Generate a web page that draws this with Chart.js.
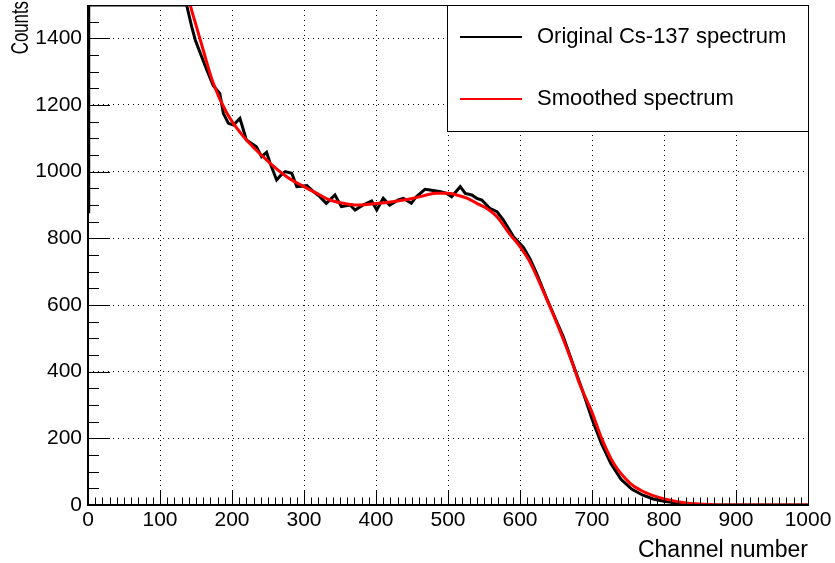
<!DOCTYPE html>
<html>
<head>
<meta charset="utf-8">
<script src="https://cdn.jsdelivr.net/npm/chart.js@4/dist/chart.umd.min.js"></script>
<style>
  body { margin: 0; background: #fff; }
  canvas { display: block; }
</style>
</head>
<body>
<canvas id="spectrumChart" width="835" height="563"></canvas>
<script>
// Original Cs-137 spectrum (clipped part sits at the top 1500)
const originalChannels = [0, 1, 137, 144, 149, 156, 165, 174, 183, 188, 195, 202, 211, 220, 234, 241, 248, 253, 262, 268, 274, 283, 290, 304, 313, 322, 331, 343, 352, 364, 371, 382, 394, 401, 410, 419, 431, 438, 449, 456, 468, 475, 490, 498, 505, 517, 524, 533, 540, 547, 558, 568, 577, 591, 605, 614, 623, 637, 650, 660, 674, 687, 700, 713, 726, 740, 755, 770, 785, 800, 820, 850, 900, 1000];
const originalCounts = [880, 1500, 1500, 1435, 1395, 1355, 1305, 1258, 1235, 1175, 1145, 1140, 1160, 1095, 1075, 1045, 1058, 1025, 975, 990, 1000, 995, 955, 958, 940, 925, 905, 930, 895, 900, 885, 900, 912, 885, 920, 900, 915, 920, 905, 925, 947, 945, 940, 935, 925, 955, 935, 930, 920, 915, 890, 880, 855, 805, 772, 738, 695, 620, 555, 505, 420, 342, 258, 185, 125, 78, 48, 30, 18, 11, 5, 1, 0, 0];

// Smoothed spectrum
const smoothChannels = [136, 142, 150, 160, 174, 193, 216, 253, 276, 300, 318, 336, 355, 373, 390, 405, 430, 452, 470, 484, 500, 512, 527, 540, 555, 568, 586, 600, 614, 635, 655, 674, 683, 700, 713, 730, 753, 767, 785, 799, 831, 870, 900, 1000];
const smoothCounts = [1560, 1500, 1440, 1365, 1265, 1175, 1105, 1025, 985, 955, 935, 915, 905, 900, 902, 905, 912, 920, 930, 935, 935, 930, 920, 905, 888, 865, 812, 775, 728, 628, 525, 418, 362, 278, 202, 125, 65, 45, 28, 19, 6, 1, 0, 0];

// Axis ticks
const xTickValues = [0, 100, 200, 300, 400, 500, 600, 700, 800, 900, 1000];
const yTickValues = [0, 200, 400, 600, 800, 1000, 1200, 1400];

const FONT = '"Liberation Sans", Arial, Helvetica, sans-serif';

function toPoints(xs, ys) {
    return xs.map((x, i) => ({ x: x, y: ys[i] }));
}

// Draws ROOT-style frame, inner ticks, legend box and axis titles
const rootStyle = {
    id: 'rootStyle',
    afterDatasetsDraw(chart) {
        const ctx = chart.ctx;
        const area = chart.chartArea;
        const xs = chart.scales.x;
        const ys = chart.scales.y;
        ctx.save();
        ctx.strokeStyle = '#000';
        ctx.lineWidth = 1;

        // x ticks (inside, pointing up)
        for (let v = xs.min; v <= xs.max; v += 10) {
            const px = Math.round(xs.getPixelForValue(v)) + 0.5;
            const len = (v % 100 === 0) ? 15 : 7.5;
            ctx.beginPath();
            ctx.moveTo(px, area.bottom);
            ctx.lineTo(px, area.bottom - len);
            ctx.stroke();
        }
        // y ticks (inside, pointing right)
        for (let v = ys.min; v <= 1450; v += 50) {
            const py = Math.round(ys.getPixelForValue(v)) + 0.5;
            const len = (v % 200 === 0) ? 22 : 11;
            ctx.beginPath();
            ctx.moveTo(area.left, py);
            ctx.lineTo(area.left + len, py);
            ctx.stroke();
        }

        // frame
        ctx.beginPath();
        ctx.moveTo(area.left, area.top + 0.5);
        ctx.lineTo(area.right, area.top + 0.5);
        ctx.moveTo(area.right + 0.5, area.top);
        ctx.lineTo(area.right + 0.5, area.bottom);
        ctx.stroke();
        ctx.lineWidth = 2;
        ctx.beginPath();
        ctx.moveTo(area.left, area.top);
        ctx.lineTo(area.left, area.bottom);
        ctx.lineTo(area.right + 1, area.bottom);
        ctx.stroke();
        ctx.restore();
    },
    afterDraw(chart) {
        const ctx = chart.ctx;
        const area = chart.chartArea;
        ctx.save();

        // legend box
        const bx = 447, by = area.top, bw = area.right - 447, bh = 126;
        ctx.fillStyle = '#fff';
        ctx.fillRect(bx, by, bw, bh);
        ctx.strokeStyle = '#000';
        ctx.lineWidth = 1;
        ctx.strokeRect(bx + 0.5, by + 0.5, bw, bh);

        const entries = [chart.data.datasets[1], chart.data.datasets[0]];
        const rowY = [37, 99];
        ctx.font = '22px ' + FONT;
        ctx.textBaseline = 'middle';
        ctx.textAlign = 'left';
        entries.forEach((ds, i) => {
            ctx.strokeStyle = ds.borderColor;
            ctx.lineWidth = 2;
            ctx.beginPath();
            ctx.moveTo(460, rowY[i]);
            ctx.lineTo(522, rowY[i]);
            ctx.stroke();
            ctx.fillStyle = '#000';
            ctx.fillText(ds.label, 537, rowY[i]);
        });

        // axis titles
        ctx.fillStyle = '#000';
        ctx.font = '23px ' + FONT;
        ctx.textAlign = 'right';
        ctx.textBaseline = 'alphabetic';
        ctx.fillText('Channel number', area.right, 557);

        ctx.translate(28, 1);
        ctx.rotate(-Math.PI / 2);
        ctx.scale(0.7, 1);
        ctx.font = '24px ' + FONT;
        ctx.textAlign = 'right';
        ctx.fillText('Counts', 0, 0);
        ctx.restore();
    }
};

function drawSpectrum() {
    const ctx = document.getElementById('spectrumChart').getContext('2d');

    new Chart(ctx, {
        type: 'line',
        data: {
            datasets: [{
                label: 'Smoothed spectrum',
                data: toPoints(smoothChannels, smoothCounts),
                borderColor: '#ff0000',
                borderWidth: 3,
                pointRadius: 0,
                fill: false,
                cubicInterpolationMode: 'monotone',
                order: 0
            }, {
                label: 'Original Cs-137 spectrum',
                data: toPoints(originalChannels, originalCounts),
                borderColor: '#000000',
                borderWidth: 3,
                pointRadius: 0,
                fill: false,
                tension: 0,
                order: 1
            }]
        },
        options: {
            responsive: false,
            animation: false,
            devicePixelRatio: 1,
            layout: { padding: { top: 5, right: 27, left: 0, bottom: 0 } },
            plugins: {
                legend: { display: false },
                tooltip: { enabled: false }
            },
            scales: {
                x: {
                    type: 'linear',
                    min: 0,
                    max: 1000,
                    afterBuildTicks: scale => { scale.ticks = xTickValues.map(v => ({ value: v })); },
                    afterFit: scale => {
                        scale.height = 58;
                        scale.paddingLeft = 0;
                        scale.paddingRight = 0;
                    },
                    ticks: {
                        color: '#000',
                        font: { family: FONT, size: 21 },
                        padding: 3,
                        maxRotation: 0,
                        autoSkip: false,
                        callback: v => String(v)
                    },
                    grid: { color: '#000', lineWidth: 1, drawTicks: false },
                    border: { display: false, dash: [1, 4] }
                },
                y: {
                    type: 'linear',
                    min: 0,
                    max: 1500,
                    afterBuildTicks: scale => { scale.ticks = yTickValues.map(v => ({ value: v })); },
                    afterFit: scale => {
                        scale.width = 88;
                        scale.paddingTop = 0;
                        scale.paddingBottom = 0;
                    },
                    ticks: {
                        color: '#000',
                        font: { family: FONT, size: 21 },
                        padding: 6,
                        callback: v => String(v)
                    },
                    grid: { color: '#000', lineWidth: 1, drawTicks: false },
                    border: { display: false, dash: [1, 4] }
                }
            }
        },
        plugins: [rootStyle]
    });
}

window.onload = drawSpectrum;
</script>
</body>
</html>
